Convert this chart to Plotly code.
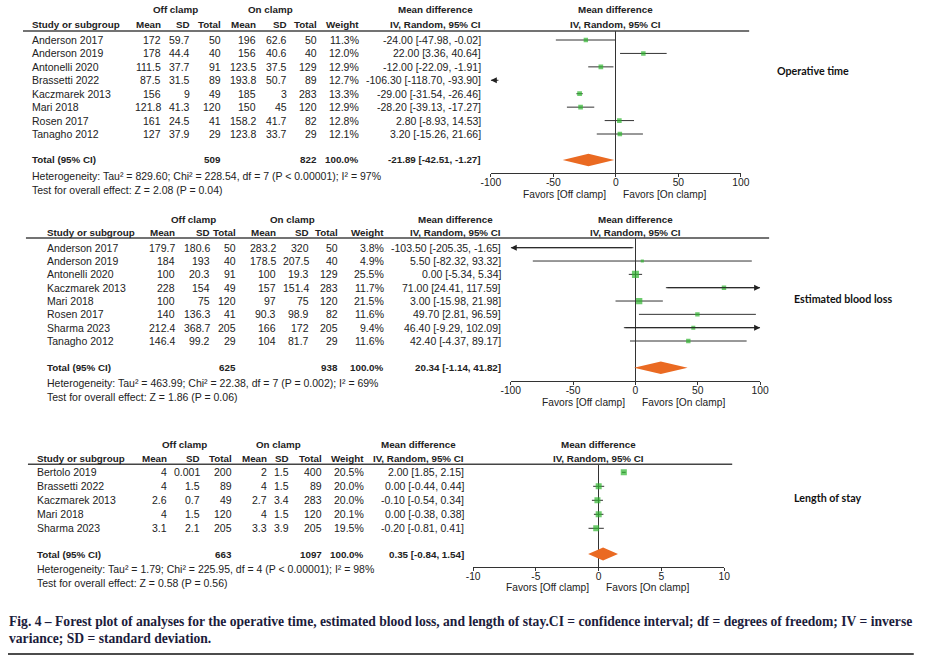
import plotly.graph_objects as go

# ---------------- DATA ----------------
# Operative time
ot_studies = ["Anderson 2017", "Anderson 2019", "Antonelli 2020", "Brassetti 2022",
              "Kaczmarek 2013", "Mari 2018", "Rosen 2017", "Tanagho 2012"]
ot_off_mean = [172, 178, 111.5, 87.5, 156, 121.8, 161, 127]
ot_off_sd = [59.7, 44.4, 37.7, 31.5, 9, 41.3, 24.5, 37.9]
ot_off_n = [50, 40, 91, 89, 49, 120, 41, 29]
ot_on_mean = [196, 156, 123.5, 193.8, 185, 150, 158.2, 123.8]
ot_on_sd = [62.6, 40.6, 37.5, 50.7, 3, 45, 41.7, 33.7]
ot_on_n = [50, 40, 129, 89, 283, 120, 82, 29]
ot_weight = [11.3, 12.0, 12.9, 12.7, 13.3, 12.9, 12.8, 12.1]
ot_md = [-24.00, 22.00, -12.00, -106.30, -29.00, -28.20, 2.80, 3.20]
ot_lo = [-47.98, 3.36, -22.09, -118.70, -31.54, -39.13, -8.93, -15.26]
ot_hi = [-0.02, 40.64, -1.91, -93.90, -26.46, -17.27, 14.53, 21.66]
ot_total_n = [509, 822]
ot_total_md = [-21.89, -42.51, -1.27]
ot_het = "Heterogeneity: Tau² = 829.60; Chi² = 228.54, df = 7 (P < 0.00001); I² = 97%"
ot_test = "Test for overall effect: Z = 2.08 (P = 0.04)"
ot_ticks = [-100, -50, 0, 50, 100]

# Estimated blood loss
ebl_studies = ["Anderson 2017", "Anderson 2019", "Antonelli 2020", "Kaczmarek 2013",
               "Mari 2018", "Rosen 2017", "Sharma 2023", "Tanagho 2012"]
ebl_off_mean = [179.7, 184, 100, 228, 100, 140, 212.4, 146.4]
ebl_off_sd = [180.6, 193, 20.3, 154, 75, 136.3, 368.7, 99.2]
ebl_off_n = [50, 40, 91, 49, 120, 41, 205, 29]
ebl_on_mean = [283.2, 178.5, 100, 157, 97, 90.3, 166, 104]
ebl_on_sd = [320, 207.5, 19.3, 151.4, 75, 98.9, 172, 81.7]
ebl_on_n = [50, 40, 129, 283, 120, 82, 205, 29]
ebl_weight = [3.8, 4.9, 25.5, 11.7, 21.5, 11.6, 9.4, 11.6]
ebl_md = [-103.50, 5.50, 0.00, 71.00, 3.00, 49.70, 46.40, 42.40]
ebl_lo = [-205.35, -82.32, -5.34, 24.41, -15.98, 2.81, -9.29, -4.37]
ebl_hi = [-1.65, 93.32, 5.34, 117.59, 21.98, 96.59, 102.09, 89.17]
ebl_total_n = [625, 938]
ebl_total_md = [20.34, -1.14, 41.82]
ebl_het = "Heterogeneity: Tau² = 463.99; Chi² = 22.38, df = 7 (P = 0.002); I² = 69%"
ebl_test = "Test for overall effect: Z = 1.86 (P = 0.06)"
ebl_ticks = [-100, -50, 0, 50, 100]

# Length of stay
los_studies = ["Bertolo 2019", "Brassetti 2022", "Kaczmarek 2013", "Mari 2018", "Sharma 2023"]
los_off_mean = [4, 4, 2.6, 4, 3.1]
los_off_sd = [0.001, 1.5, 0.7, 1.5, 2.1]
los_off_n = [200, 89, 49, 120, 205]
los_on_mean = [2, 4, 2.7, 4, 3.3]
los_on_sd = [1.5, 1.5, 3.4, 1.5, 3.9]
los_on_n = [400, 89, 283, 120, 205]
los_weight = [20.5, 20.0, 20.0, 20.1, 19.5]
los_md = [2.00, 0.00, -0.10, 0.00, -0.20]
los_lo = [1.85, -0.44, -0.54, -0.38, -0.81]
los_hi = [2.15, 0.44, 0.34, 0.38, 0.41]
los_total_n = [663, 1097]
los_total_md = [0.35, -0.84, 1.54]
los_het = "Heterogeneity: Tau² = 1.79; Chi² = 225.95, df = 4 (P < 0.00001); I² = 98%"
los_test = "Test for overall effect: Z = 0.58 (P = 0.56)"
los_ticks = [-10, -5, 0, 5, 10]

panel_names = ["Operative time", "Estimated blood loss", "Length of stay"]
col_headers = ["Mean", "SD", "Total", "Mean", "SD", "Total", "Weight"]
favors = ["Favors [Off clamp]", "Favors [On clamp]"]
caption1 = ("Fig. 4 – Forest plot of analyses for the operative time, estimated blood loss, and length of "
            "stay.CI = confidence interval; df = degrees of freedom; IV = inverse")
caption2 = "variance; SD = standard deviation."

# ---------------- LAYOUT (pixels) ----------------
W, H = 930, 659
SX, OX = 0.982, 9.0   # horizontal compensation for how the page is photographed
TF = "Liberation Sans, Arial, sans-serif"
TXT = "#222222"
GREEN = "#2fb52f"
ORANGE = "#ea6a22"
BOLD_SIZE = 9.8
REG_SIZE = 10.5


def px(x):
    return ((x - OX) / SX) / W


def py(y):
    return 1 - y / H


data_sets = [
    dict(studies=ot_studies, off_mean=ot_off_mean, off_sd=ot_off_sd, off_n=ot_off_n,
         on_mean=ot_on_mean, on_sd=ot_on_sd, on_n=ot_on_n, weight=ot_weight,
         md=ot_md, lo=ot_lo, hi=ot_hi, total_n=ot_total_n, total_md=ot_total_md,
         het=ot_het, test=ot_test, ticks=ot_ticks),
    dict(studies=ebl_studies, off_mean=ebl_off_mean, off_sd=ebl_off_sd, off_n=ebl_off_n,
         on_mean=ebl_on_mean, on_sd=ebl_on_sd, on_n=ebl_on_n, weight=ebl_weight,
         md=ebl_md, lo=ebl_lo, hi=ebl_hi, total_n=ebl_total_n, total_md=ebl_total_md,
         het=ebl_het, test=ebl_test, ticks=ebl_ticks),
    dict(studies=los_studies, off_mean=los_off_mean, off_sd=los_off_sd, off_n=los_off_n,
         on_mean=los_on_mean, on_sd=los_on_sd, on_n=los_on_n, weight=los_weight,
         md=los_md, lo=los_lo, hi=los_hi, total_n=los_total_n, total_md=los_total_md,
         het=los_het, test=los_test, ticks=los_ticks),
]

geo = [
    dict(h1=10, h2=25, line=31, lx=(22, 750), row0=40, dy=13.43, total=160, het=176, test=190,
         sx=30, cols=[161, 190, 222, 257, 288, 318, 360, 482], offc=175, onc=270,
         dom=(491, 741.7), axis=173, favy=194.5, label=(777, 70)),
    dict(h1=219, h2=232, line=238, lx=(25, 770), row0=247.7, dy=13.33, total=367.7, het=382.7, test=396.7,
         sx=45, cols=[175, 210, 236.5, 276.5, 310, 338.5, 385, 502], offc=192.5, onc=292.5,
         dom=(511, 761), axis=380.7, favy=402.2, label=(794, 298.7)),
    dict(h1=444.3, h2=458.3, line=464.3, lx=(27, 733), row0=472.3, dy=14.0, total=554, het=569.3, test=583.3,
         sx=35, cols=[167, 200, 233, 268, 290, 323, 365, 465], offc=183.5, onc=278,
         dom=(473.3, 725), axis=566.7, favy=587.5, label=(794, 497.7)),
]

fig = go.Figure()
anns = []
shapes = []


def txt(x, y, s, anchor="left", bold=False, size=None, family=TF, color=TXT):
    if size is None:
        size = BOLD_SIZE if bold else REG_SIZE
    if bold:
        s = "<b>" + s + "</b>"
    anns.append(dict(x=px(x), y=py(y), xref="paper", yref="paper", text=s, showarrow=False,
                     xanchor=anchor, yanchor="middle", borderpad=0,
                     font=dict(family=family, size=size, color=color)))


def fmt(v):
    return f"{v:g}"


layout_axes = {}
for k, (d, g) in enumerate(zip(data_sets, geo)):
    n = len(d["studies"])
    sfx = "" if k == 0 else str(k + 1)
    xa, ya = "x" + sfx, "y" + sfx
    rng = (d["ticks"][0], d["ticks"][-1])

    # --- table headers ---
    txt(g["offc"], g["h1"], "Off clamp", "center", bold=True)
    txt(g["onc"], g["h1"], "On clamp", "center", bold=True)
    cic = g["cols"][-1] - 46
    txt(cic, g["h1"], "Mean difference", "center", bold=True)
    txt(cic, g["h2"], "IV, Random, 95% CI", "center", bold=True)
    txt(g["sx"], g["h2"], "Study or subgroup", "left", bold=True)
    for c, h in zip(g["cols"][:7], col_headers):
        txt(c, g["h2"], h, "right", bold=True)
    shapes.append(dict(type="line", xref="paper", yref="paper", x0=px(g["lx"][0]), x1=px(g["lx"][1]),
                       y0=py(g["line"]), y1=py(g["line"]), line=dict(color="#444", width=1.6)))

    # --- table rows ---
    for i in range(n):
        y = g["row0"] + g["dy"] * i
        txt(g["sx"], y, d["studies"][i])
        vals = [fmt(d["off_mean"][i]), fmt(d["off_sd"][i]), fmt(d["off_n"][i]),
                fmt(d["on_mean"][i]), fmt(d["on_sd"][i]), fmt(d["on_n"][i]),
                f"{d['weight'][i]:.1f}%",
                f"{d['md'][i]:.2f} [{d['lo'][i]:.2f}, {d['hi'][i]:.2f}]"]
        for c, v in zip(g["cols"], vals):
            txt(c, y, v, "right")
    # total row
    tm = d["total_md"]
    txt(g["sx"], g["total"], "Total (95% CI)", bold=True)
    txt(g["cols"][2], g["total"], str(d["total_n"][0]), "right", bold=True)
    txt(g["cols"][5], g["total"], str(d["total_n"][1]), "right", bold=True)
    txt(g["cols"][6], g["total"], "100.0%", "right", bold=True)
    txt(g["cols"][7], g["total"], f"{tm[0]:.2f} [{tm[1]:.2f}, {tm[2]:.2f}]", "right", bold=True)
    txt(g["sx"], g["het"], d["het"])
    txt(g["sx"], g["test"], d["test"])

    # --- forest header & label ---
    fc = (g["dom"][0] + g["dom"][1]) / 2
    txt(fc, g["h1"], "Mean difference", "center", bold=True)
    txt(fc, g["h2"], "IV, Random, 95% CI", "center", bold=True)
    txt(g["label"][0], g["label"][1], panel_names[k], "left", bold=True, size=10.7,
        family="Lato, Open Sans, sans-serif", color="#111")

    # favors labels relative to zero
    anns.append(dict(x=0, xref=xa, y=py(g["favy"]), yref="paper", text=favors[0], showarrow=False,
                     xanchor="right", yanchor="middle", xshift=-9, borderpad=0,
                     font=dict(family=TF, size=REG_SIZE - 0.3, color=TXT)))
    anns.append(dict(x=0, xref=xa, y=py(g["favy"]), yref="paper", text=favors[1], showarrow=False,
                     xanchor="left", yanchor="middle", xshift=6, borderpad=0,
                     font=dict(family=TF, size=REG_SIZE - 0.3, color=TXT)))

    # --- forest traces ---
    rows = list(range(n))
    lx, ly = [], []
    for i in rows:
        a = max(d["lo"][i], rng[0])
        b = min(d["hi"][i], rng[1])
        if a < b:
            lx += [a, b, None]
            ly += [i, i, None]
        if d["lo"][i] < rng[0]:
            anns.append(dict(x=rng[0], y=i, xref=xa, yref=ya, ax=min(d["hi"][i], rng[1]), ay=i,
                             axref=xa, ayref=ya, showarrow=True, arrowhead=2, arrowsize=1.2,
                             arrowwidth=1, arrowcolor="#222", text=""))
        if d["hi"][i] > rng[1]:
            anns.append(dict(x=rng[1], y=i, xref=xa, yref=ya, ax=max(d["lo"][i], rng[0]), ay=i,
                             axref=xa, ayref=ya, showarrow=True, arrowhead=2, arrowsize=1.2,
                             arrowwidth=1, arrowcolor="#222", text=""))
    fig.add_trace(go.Scatter(x=lx, y=ly, mode="lines", line=dict(color="#333", width=1),
                             xaxis=xa, yaxis=ya, showlegend=False, hoverinfo="skip"))
    sizes = [2.2 + 0.19 * w for w in d["weight"]]
    fig.add_trace(go.Scatter(x=d["md"], y=rows, mode="markers",
                             marker=dict(symbol="square", size=sizes, color=GREEN, line=dict(width=0)),
                             xaxis=xa, yaxis=ya, showlegend=False))
    ty = (g["total"] - g["row0"]) / g["dy"]
    hh = 0.47
    fig.add_trace(go.Scatter(x=[tm[1], tm[0], tm[2], tm[0], tm[1]],
                             y=[ty, ty - hh, ty, ty + hh, ty], mode="lines", fill="toself",
                             fillcolor=ORANGE, line=dict(width=0, color=ORANGE),
                             xaxis=xa, yaxis=ya, showlegend=False))

    top_row = (g["line"] - g["row0"]) / g["dy"]
    bot_row = (g["axis"] - g["row0"]) / g["dy"]
    layout_axes["xaxis" + sfx] = dict(
        domain=[px(g["dom"][0]), px(g["dom"][1])], range=list(rng), anchor=ya,
        tickvals=d["ticks"], ticktext=[str(t) for t in d["ticks"]],
        showline=True, linecolor="#333", linewidth=1, ticks="outside", ticklen=3,
        ticklabelstandoff=-3,
        tickcolor="#333", showgrid=False, zeroline=True, zerolinecolor="#333", zerolinewidth=1,
        tickfont=dict(family=TF, size=10.3, color=TXT), fixedrange=True)
    layout_axes["yaxis" + sfx] = dict(
        domain=[py(g["axis"]), py(g["line"])], range=[bot_row, top_row], anchor=xa,
        visible=False, showgrid=False, zeroline=False, fixedrange=True)

# caption
CAP = "Liberation Serif, DejaVu Serif, serif"
txt(7, 621, caption1, "left", bold=True, size=13.6, family=CAP, color="#1c1c3c")
txt(7, 638, caption2, "left", bold=True, size=13.6, family=CAP, color="#1c1c3c")
shapes.append(dict(type="line", xref="paper", yref="paper", x0=px(7), x1=px(915),
                   y0=py(654), y1=py(654), line=dict(color="#111", width=1.5)))

fig.update_layout(width=W, height=H, margin=dict(l=0, r=0, t=0, b=0),
                  paper_bgcolor="white", plot_bgcolor="white",
                  annotations=anns, shapes=shapes, showlegend=False, **layout_axes)

fig.write_html("out.html", config={"displayModeBar": False},
               post_script="document.body.style.margin='0';document.body.style.overflow='hidden';")
